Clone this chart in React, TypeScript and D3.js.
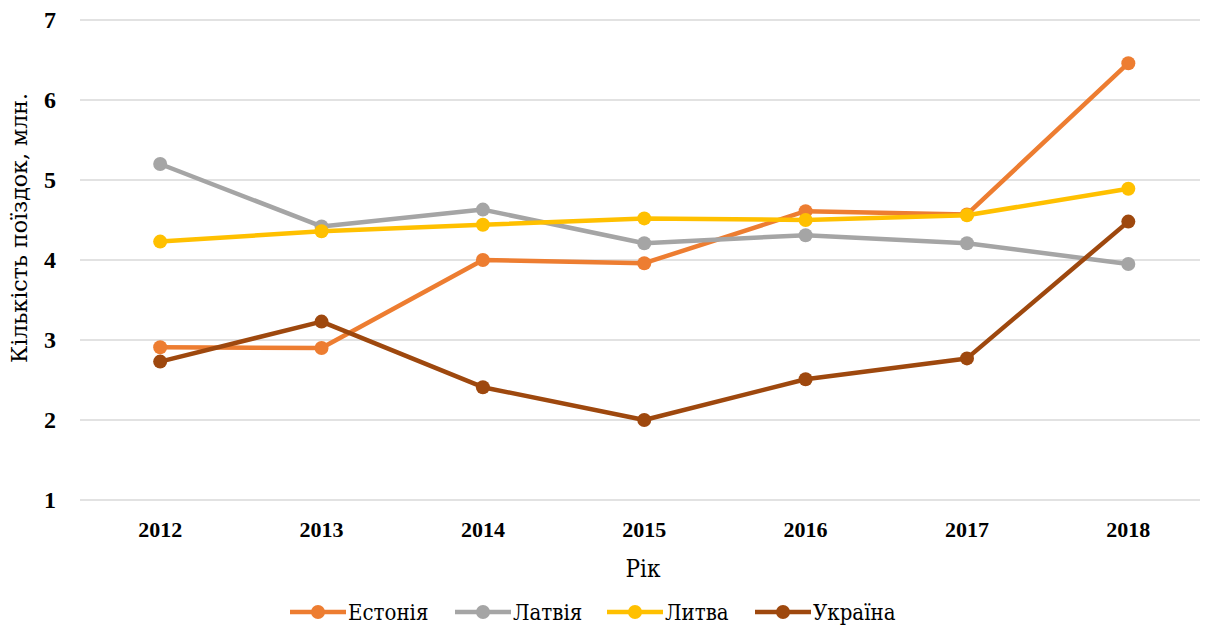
import React from "react";
import * as d3 from "d3";

const years = ["2012", "2013", "2014", "2015", "2016", "2017", "2018"];
const estonia = [2.91, 2.9, 4.0, 3.96, 4.61, 4.57, 6.46];
const latvia = [5.2, 4.42, 4.63, 4.21, 4.31, 4.21, 3.95];
const lithuania = [4.23, 4.36, 4.44, 4.52, 4.5, 4.56, 4.89];
const ukraine = [2.73, 3.23, 2.41, 2.0, 2.51, 2.77, 4.48];
const seriesNames = ["Естонія", "Латвія", "Литва", "Україна"];
const seriesColors = ["#ED7D31", "#A5A5A5", "#FFC000", "#9E480E"];
const yTicks = [1, 2, 3, 4, 5, 6, 7];

const W = 1215;
const H = 630;
const FONT = "Liberation Serif, serif";
const CYR = "DejaVu Serif, Liberation Serif, serif";

export default function App() {
  const x = d3.scaleBand<string>().domain(years).range([79.5, 1209]);
  const y = d3.scaleLinear().domain([1, 7]).range([500, 20]);
  const cx = (yr: string) => (x(yr) as number) + x.bandwidth() / 2;
  const data = [estonia, latvia, lithuania, ukraine];
  const line = d3
    .line<number>()
    .x((_, i) => cx(years[i]))
    .y((d) => y(d));

  const legendX = [290, 455, 607, 755];
  const cyrStyle = { fontFamily: CYR, fontStretch: "condensed" as const };

  return (
    <svg
      width={W}
      height={H}
      style={{ position: "absolute", left: 0, top: 0, background: "#fff" }}
    >
      {yTicks.map((t) => (
        <g key={t}>
          <line x1={80} x2={1200} y1={y(t)} y2={y(t)} stroke="#D9D9D9" strokeWidth={1.5} />
          <text
            x={50}
            y={y(t)}
            dy="0.35em"
            textAnchor="middle"
            style={{ fontFamily: FONT }}
            fontWeight="bold"
            fontSize={24}
            fill="#000"
          >
            {t}
          </text>
        </g>
      ))}
      {years.map((yr) => (
        <text
          key={yr}
          x={cx(yr)}
          y={537}
          textAnchor="middle"
          style={{ fontFamily: FONT }}
          fontWeight="bold"
          fontSize={22}
          fill="#000"
        >
          {yr}
        </text>
      ))}
      <text x={643} y={577} textAnchor="middle" style={cyrStyle} fontSize={24} fill="#000">
        Рік
      </text>
      <text
        transform="translate(27,228) rotate(-90)"
        textAnchor="middle"
        style={cyrStyle}
        fontSize={23}
        textLength={270}
        lengthAdjust="spacingAndGlyphs"
        fill="#000"
      >
        Кількість поїздок, млн.
      </text>
      {data.map((vals, si) => (
        <g key={si}>
          <path
            d={line(vals) as string}
            fill="none"
            stroke={seriesColors[si]}
            strokeWidth={4.5}
            strokeLinejoin="round"
            strokeLinecap="round"
          />
          {vals.map((v, i) => (
            <circle key={i} cx={cx(years[i])} cy={y(v)} r={7} fill={seriesColors[si]} />
          ))}
        </g>
      ))}
      {seriesNames.map((n, i) => (
        <g key={n} transform={`translate(${legendX[i]},612)`}>
          <line x1={0} x2={56} y1={0} y2={0} stroke={seriesColors[i]} strokeWidth={4.5} />
          <circle cx={28} cy={0} r={7} fill={seriesColors[i]} />
          <text x={58} y={0} dy="0.35em" style={cyrStyle} fontSize={22} fill="#000">
            {n}
          </text>
        </g>
      ))}
    </svg>
  );
}
